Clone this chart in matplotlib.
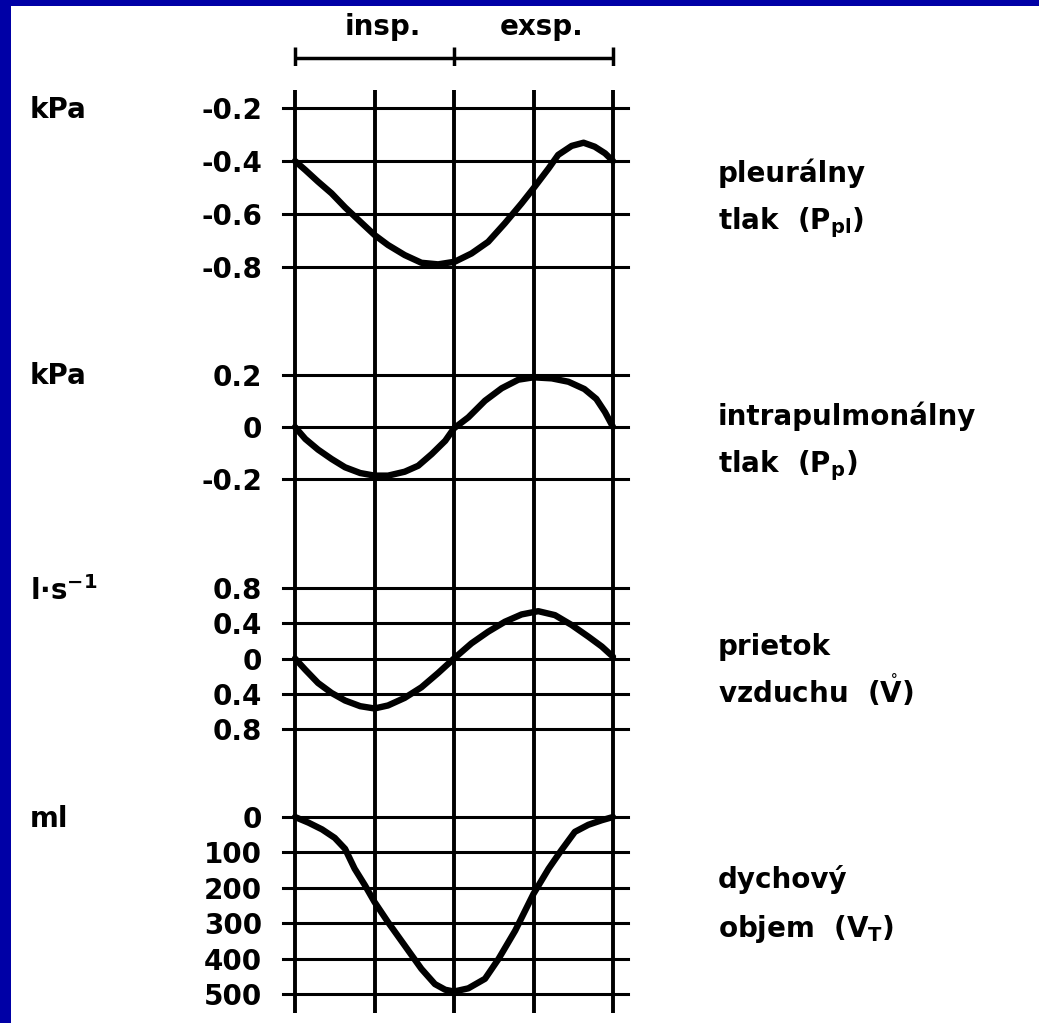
import matplotlib
matplotlib.use("Agg")
import matplotlib.pyplot as plt
from matplotlib.patches import Rectangle
from matplotlib.transforms import blended_transform_factory

# time grid (arbitrary units, one breath = 4)
GRID_T = [0, 1, 2, 3, 4]
PHASES = ["insp.", "exsp."]

# pleural pressure, kPa
PPL_T = [0, 0.13, 0.29, 0.46, 0.63, 0.80, 1.0, 1.17, 1.38, 1.59, 1.80, 2.01, 2.22, 2.43,
         2.64, 2.85, 3.0, 3.19, 3.31, 3.48, 3.63, 3.77, 3.90, 4.0]
PPL_V = [-0.40, -0.434, -0.478, -0.522, -0.575, -0.623, -0.679, -0.717, -0.755, -0.784,
         -0.79, -0.78, -0.749, -0.705, -0.635, -0.56, -0.503, -0.428, -0.377, -0.343,
         -0.331, -0.346, -0.371, -0.40]
PPL_TICKS = [-0.2, -0.4, -0.6, -0.8]
PPL_LABELS = ["-0.2", "-0.4", "-0.6", "-0.8"]

# intrapulmonary pressure, kPa
PP_T = [0, 0.13, 0.29, 0.46, 0.63, 0.82, 1.0, 1.17, 1.38, 1.55, 1.72, 1.89, 2.0, 2.18,
        2.39, 2.60, 2.81, 3.0, 3.23, 3.44, 3.64, 3.79, 3.90, 4.0]
PP_V = [0, -0.046, -0.087, -0.123, -0.155, -0.177, -0.187, -0.187, -0.172, -0.149,
        -0.104, -0.053, -0.005, 0.037, 0.101, 0.149, 0.182, 0.191, 0.187, 0.174, 0.146,
        0.108, 0.057, 0]
PP_TICKS = [0.2, 0, -0.2]
PP_LABELS = ["0.2", "0", "-0.2"]

# air flow, l/s
FLOW_T = [0, 0.13, 0.29, 0.46, 0.63, 0.82, 1.0, 1.17, 1.38, 1.59, 1.80, 2.0, 2.22, 2.43,
          2.64, 2.85, 3.06, 3.27, 3.48, 3.69, 3.86, 4.0]
FLOW_V = [0, -0.128, -0.278, -0.391, -0.477, -0.541, -0.567, -0.533, -0.447, -0.327,
          -0.165, 0.0, 0.172, 0.304, 0.417, 0.50, 0.537, 0.492, 0.38, 0.248, 0.135, 0.02]
FLOW_TICKS = [0.8, 0.4, 0, -0.4, -0.8]
FLOW_LABELS = ["0.8", "0.4", "0", "0.4", "0.8"]

# tidal volume, ml
VT_T = [0, 0.17, 0.34, 0.50, 0.63, 0.75, 0.88, 1.0, 1.17, 1.38, 1.59, 1.76, 1.89, 2.0,
        2.18, 2.39, 2.56, 2.77, 3.0, 3.19, 3.35, 3.52, 3.69, 3.86, 4.0]
VT_V = [0, 16, 35, 59, 90, 146, 193, 240, 297, 363, 429, 472, 488, 493, 484, 457, 401,
        321, 217, 146, 94, 42, 22, 9, 0]
VT_TICKS = [0, 100, 200, 300, 400, 500]
VT_LABELS = ["0", "100", "200", "300", "400", "500"]

UNITS = ["kPa", "kPa", r"l$\cdot$s$^{-1}$", "ml"]
NAMES = [("pleurálny", r"tlak  ($P_{pl}$)"),
         ("intrapulmonálny", r"tlak  ($P_p$)"),
         ("prietok", r"vzduchu  ($\mathring{V}$)"),
         ("dychový", r"objem  ($V_T$)")]

W, H = 1039, 1023
FS = 20
plt.rcParams["font.family"] = "DejaVu Sans"
plt.rcParams["font.weight"] = "bold"
plt.rcParams["mathtext.fontset"] = "dejavusans"
plt.rcParams["mathtext.default"] = "bf"

fig = plt.figure(figsize=(W / 100, H / 100), dpi=100)
fig.patch.set_facecolor("#0000a6")
fig.add_artist(Rectangle((11 / W, 0), 1, 1 - 6 / H, transform=fig.transFigure,
                         facecolor="white", edgecolor="none", zorder=-5))


def px_axes(x0, y0, x1, y1):
    ax = fig.add_axes([x0 / W, 1 - y1 / H, (x1 - x0) / W, (y1 - y0) / H])
    ax.patch.set_alpha(0)
    for s in ax.spines.values():
        s.set_visible(False)
    return ax


X0, X1 = 283, 628
T_PX = 79.5
XLIM = (-12 / T_PX, 4 + 15 / T_PX)

# vertical grid spanning all panels
bg = px_axes(X0, 90, X1, 1013)
bg.set_xlim(XLIM)
bg.set_xticks([])
bg.set_yticks([])
for t in GRID_T:
    bg.axvline(t, color="black", lw=2.8)

# header with inspiration / expiration bracket
hd = px_axes(X0, 47, X1, 66)
hd.set_xlim(XLIM)
hd.set_ylim(0, 1)
hd.set_xticks([])
hd.set_yticks([])
hd.hlines(0.4, GRID_T[0], GRID_T[-1], color="black", lw=2.5)
hd.vlines(GRID_T[::2], 0, 1, color="black", lw=2.5)
htr = blended_transform_factory(hd.transData, fig.transFigure)
for ph, tc in zip(PHASES, [1.1, 3.1]):
    fig.text(tc, 1 - 35 / H, ph, transform=htr, ha="center", va="baseline", fontsize=FS)

panels = [
    (108, 267, (-0.8, -0.2), PPL_TICKS, PPL_LABELS, PPL_T, PPL_V),
    (375, 479, (-0.2, 0.2), PP_TICKS, PP_LABELS, PP_T, PP_V),
    (588, 729, (-0.8, 0.8), FLOW_TICKS, FLOW_LABELS, FLOW_T, FLOW_V),
    (817, 994, (500, 0), VT_TICKS, VT_LABELS, VT_T, VT_V),
]

for top, bot, ylim, ticks, labels, t, v in panels:
    ax = px_axes(X0, top, X1, bot)
    ax.set_xlim(XLIM)
    ax.set_ylim(ylim)
    ax.set_xticks([])
    ax.set_yticks(ticks)
    ax.set_yticklabels(labels, fontsize=FS, fontweight="bold")
    ax.tick_params(axis="y", length=0, pad=15)
    for y in ticks:
        ax.axhline(y, color="black", lw=2.2, clip_on=False)
    ax.plot(t, v, color="black", lw=4.6, solid_capstyle="round", solid_joinstyle="round",
            clip_on=False, zorder=5)

# unit labels on the left
unit_y = [110, 376, 600, 819]
unit_va = ["center", "center", "baseline", "center"]
for u, y, va in zip(UNITS, unit_y, unit_va):
    fig.text(30 / W, 1 - y / H, u, ha="left", va=va, fontsize=FS)

# quantity names on the right
name_y = [(182, 229), (425, 472), (655, 703), (888, 937)]
for (l1, l2), (y1, y2) in zip(NAMES, name_y):
    fig.text(718 / W, 1 - y1 / H, l1, ha="left", va="baseline", fontsize=FS)
    fig.text(718 / W, 1 - y2 / H, l2, ha="left", va="baseline", fontsize=FS)

fig.savefig("out.png", dpi=100)
